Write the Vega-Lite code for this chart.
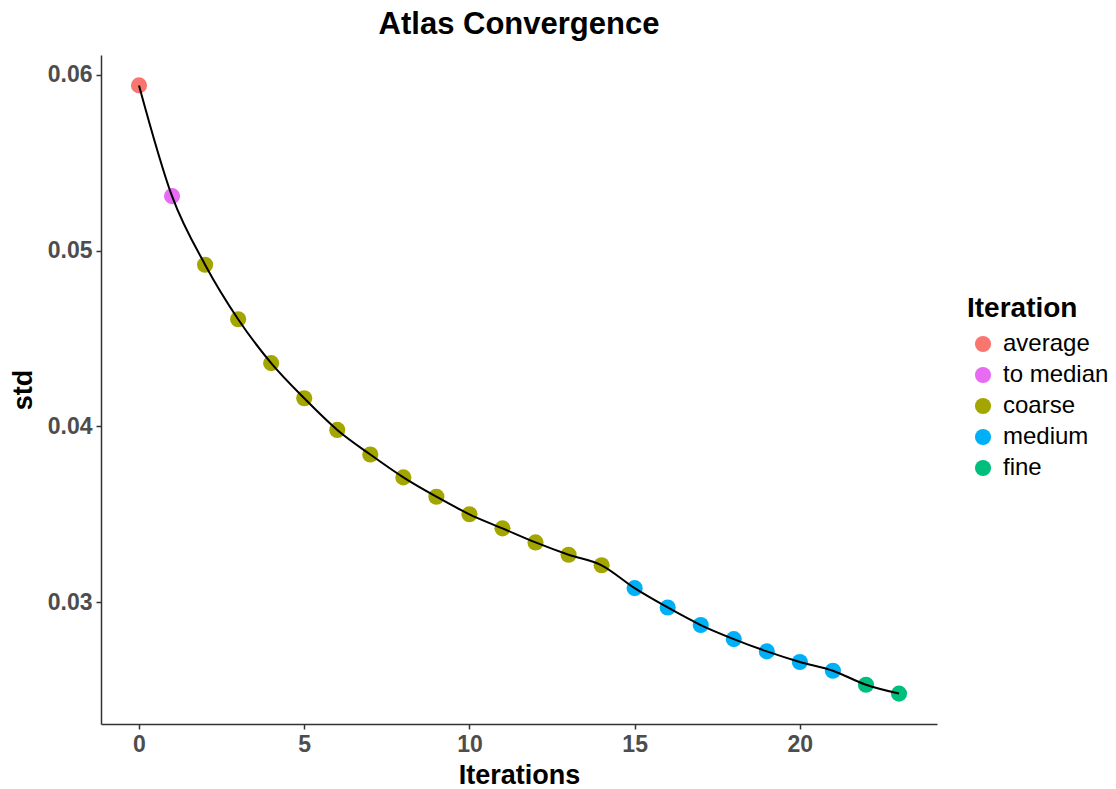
{
  "$schema": "https://vega.github.io/schema/vega-lite/v6.json",
  "autosize": "none",
  "width": 836,
  "height": 669,
  "padding": {"left": 101, "top": 55, "right": 179, "bottom": 65},
  "background": "white",
  "title": {"text": "Atlas Convergence", "font": "Liberation Sans", "fontSize": 31, "fontWeight": "bold", "color": "black", "anchor": "middle", "offset": 14},
  "config": {
    "view": {"stroke": null},
    "font": "Liberation Sans",
    "axis": {"grid": false, "domainColor": "#333333", "domainWidth": 1.5, "tickColor": "#333333", "tickWidth": 1.5, "tickSize": 5, "labelFont": "Liberation Sans", "labelFontSize": 23, "labelFontWeight": "bold", "labelColor": "#4D4D4D", "titleFont": "Liberation Sans", "titleFontSize": 27, "titleFontWeight": "bold", "titleColor": "black"}
  },
  "data": {"values": [
    {"it": 0, "std": 0.0594, "Iteration": "average"},
    {"it": 1, "std": 0.0531, "Iteration": "to median"},
    {"it": 2, "std": 0.0492, "Iteration": "coarse"},
    {"it": 3, "std": 0.0461, "Iteration": "coarse"},
    {"it": 4, "std": 0.0436, "Iteration": "coarse"},
    {"it": 5, "std": 0.0416, "Iteration": "coarse"},
    {"it": 6, "std": 0.0398, "Iteration": "coarse"},
    {"it": 7, "std": 0.0384, "Iteration": "coarse"},
    {"it": 8, "std": 0.0371, "Iteration": "coarse"},
    {"it": 9, "std": 0.0360, "Iteration": "coarse"},
    {"it": 10, "std": 0.0350, "Iteration": "coarse"},
    {"it": 11, "std": 0.0342, "Iteration": "coarse"},
    {"it": 12, "std": 0.0334, "Iteration": "coarse"},
    {"it": 13, "std": 0.0327, "Iteration": "coarse"},
    {"it": 14, "std": 0.0321, "Iteration": "coarse"},
    {"it": 15, "std": 0.0308, "Iteration": "medium"},
    {"it": 16, "std": 0.0297, "Iteration": "medium"},
    {"it": 17, "std": 0.0287, "Iteration": "medium"},
    {"it": 18, "std": 0.0279, "Iteration": "medium"},
    {"it": 19, "std": 0.0272, "Iteration": "medium"},
    {"it": 20, "std": 0.0266, "Iteration": "medium"},
    {"it": 21, "std": 0.0261, "Iteration": "medium"},
    {"it": 22, "std": 0.0253, "Iteration": "fine"},
    {"it": 23, "std": 0.0248, "Iteration": "fine"}
  ]},
  "encoding": {
    "x": {"field": "it", "type": "quantitative", "scale": {"domain": [-1.15, 24.15], "nice": false, "zero": false}, "axis": {"values": [0, 5, 10, 15, 20], "title": "Iterations", "titlePadding": 6, "labelPadding": 4}},
    "y": {"field": "std", "type": "quantitative", "scale": {"domain": [0.02307, 0.06113], "nice": false, "zero": false}, "axis": {"values": [0.03, 0.04, 0.05, 0.06], "format": ".2f", "title": "std", "titlePadding": 10, "labelPadding": 4}}
  },
  "layer": [
    {
      "mark": {"type": "circle", "size": 260, "opacity": 1},
      "encoding": {
        "color": {"field": "Iteration", "type": "nominal",
          "scale": {"domain": ["average", "to median", "coarse", "medium", "fine"], "range": ["#F8766D", "#E76BF3", "#A3A500", "#00B0F6", "#00BF7D"]},
          "legend": {"orient": "none", "legendX": 866, "legendY": 240, "title": "Iteration", "titleFont": "Liberation Sans", "titleFontSize": 28, "titleFontWeight": "bold", "titleColor": "black", "titlePadding": 9, "labelFont": "Liberation Sans", "labelFontSize": 24, "labelColor": "black", "symbolType": "circle", "symbolSize": 260, "symbolStrokeWidth": 0, "rowPadding": 7, "labelOffset": 8, "symbolOffset": 4}
        }
      }
    },
    {
      "mark": {"type": "line", "color": "black", "strokeWidth": 2, "interpolate": "monotone"},
      "encoding": {}
    }
  ]
}
